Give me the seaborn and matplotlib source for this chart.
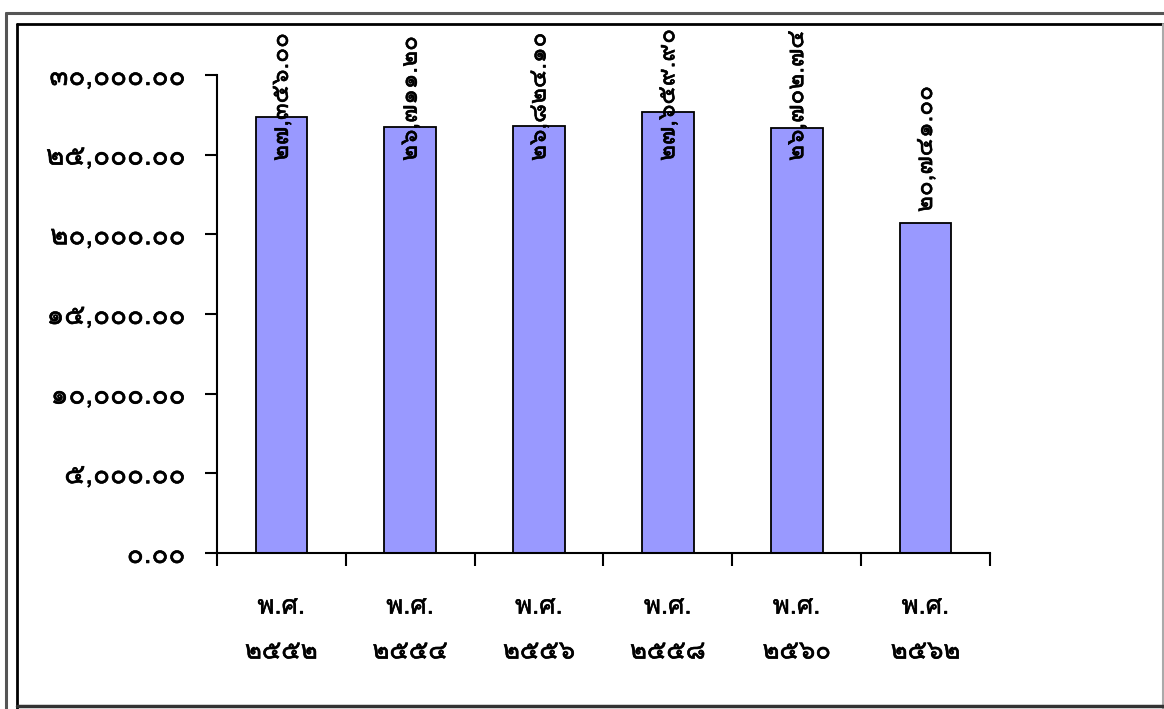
import matplotlib
matplotlib.use("Agg")
import matplotlib.pyplot as plt
import matplotlib.patheffects as pe
from matplotlib.lines import Line2D
import numpy as np
import pandas as pd
import seaborn as sns

# ---- data ----
years = ["๒๕๕๒", "๒๕๕๔", "๒๕๕๖", "๒๕๕๘", "๒๕๖๐", "๒๕๖๒"]
prefix = "พ.ศ."
values = [27356.00, 26711.20, 26824.10, 27659.90, 26702.74, 20741.00]
yticks = [0, 5000, 10000, 15000, 20000, 25000, 30000]

THAI = str.maketrans("0123456789", "๐๑๒๓๔๕๖๗๘๙")
def thai_num(v):
    return f"{v:,.2f}".translate(THAI)

sns.set_theme(style="white")
plt.rcParams['font.family'] = ['Loma', 'DejaVu Sans']
plt.rcParams['text.color'] = 'black'

fx = [pe.withStroke(linewidth=0.4, foreground="black")]

fig = plt.figure(figsize=(11.64, 7.09), dpi=100)
W, H = 1164, 709
ax = fig.add_axes([217 / W, 1 - 553 / H, (990 - 217) / W, (553 - 75) / H])

labels = [f"{prefix}\n{y}" for y in years]
df = pd.DataFrame({"label": labels, "value": values})
sns.barplot(data=df, x="label", y="value", ax=ax, color="#9999FF",
            saturation=1, width=0.4, edgecolor="black", linewidth=1.3)

ax.set_xlim(-0.5, len(values) - 0.5)
ax.set_ylim(0, 30000)
ax.set_xlabel("")
ax.set_ylabel("")

# spines
for s in ["top", "right"]:
    ax.spines[s].set_visible(False)
for s in ["left", "bottom"]:
    ax.spines[s].set_color("black")
    ax.spines[s].set_linewidth(1.5)

# y ticks
ax.set_yticks(yticks)
ax.set_yticklabels([thai_num(v) for v in yticks], fontsize=20,
                   fontweight="normal", color="black", path_effects=fx)
ax.tick_params(axis="y", direction="out", length=9, width=1.5, color="black",
               left=True, pad=14)

# x ticks: marks at boundaries, labels at centers
ax.set_xticks(np.arange(-0.5, len(values), 1))
ax.set_xticklabels([])
ax.tick_params(axis="x", which="major", direction="out", length=9, width=1.5,
               color="black", bottom=True)
ax.set_xticks(np.arange(len(values)), minor=True)
ax.set_xticklabels(labels, minor=True, fontsize=18.5, fontweight="normal",
                   linespacing=2.1, color="black", path_effects=fx)
ax.tick_params(axis="x", which="minor", length=0, pad=30)

# value labels
for i, v in enumerate(values):
    ax.text(i, min(v + 650, 24600), thai_num(v), rotation=90, ha="center",
            va="bottom", fontsize=17.5, fontweight="normal", color="black",
            clip_on=False, path_effects=fx)

# frames
def hline(y, x0, x1, c, lw):
    fig.add_artist(Line2D([x0 / W, x1 / W], [1 - y / H, 1 - y / H], color=c, lw=lw,
                          transform=fig.transFigure))
def vline(x, y0, y1, c, lw):
    fig.add_artist(Line2D([x / W, x / W], [1 - y0 / H, 1 - y1 / H], color=c, lw=lw,
                          transform=fig.transFigure))

hline(13, 6, W, "#555555", 2.2)
vline(6, 13, H, "#555555", 2.2)
hline(24, 17, W, "black", 2.0)
vline(17, 24, H, "black", 2.0)
vline(1163, 24, H, "#aaaaaa", 1.5)
hline(706, 17, W, "#333333", 2.5)

fig.savefig("out.png", dpi=100, facecolor="white")
